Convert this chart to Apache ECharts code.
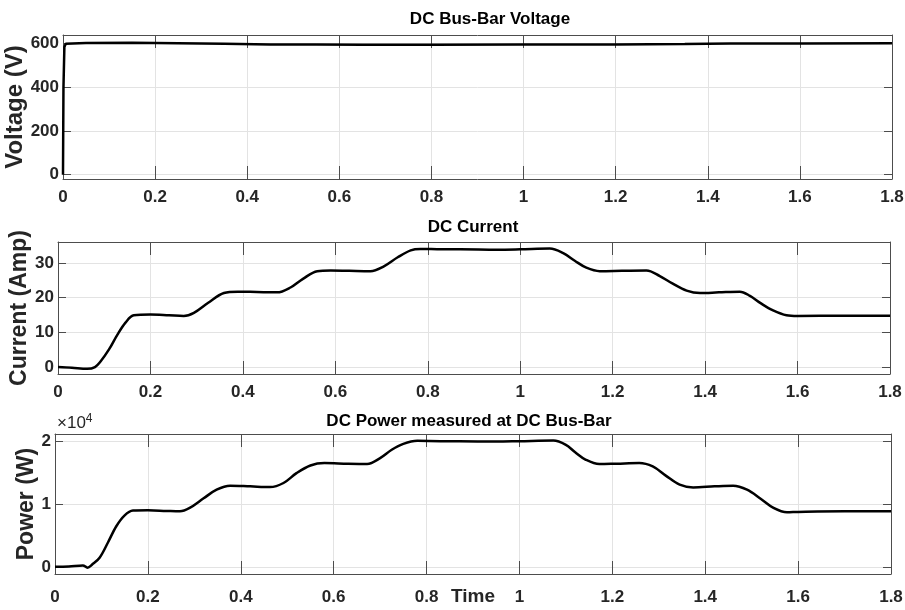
<!DOCTYPE html>
<html>
<head>
<meta charset="utf-8">
<script src="https://cdn.jsdelivr.net/npm/echarts@6/dist/echarts.min.js"></script>
<style>
  html, body { margin: 0; padding: 0; background: #fff; }
  #chart { width: 905px; height: 610px; }
</style>
</head>
<body>
<div id="chart"></div>
<script>
// time ticks (s)
const timeTicks = [0, 0.2, 0.4, 0.6, 0.8, 1, 1.2, 1.4, 1.6, 1.8];

// DC bus-bar voltage (V)
const voltT = [0, 0.001, 0.003, 0.006, 0.05, 0.15, 0.25, 0.35, 0.45, 0.55, 0.65, 0.8, 1.0, 1.2, 1.35, 1.45, 1.6, 1.8];
const voltV = [0, 400, 585, 600, 603, 604, 602, 600, 597, 596, 595, 595, 596, 597, 599, 601, 601, 602];
const voltTicks = [0, 200, 400, 600];

// DC current (A)
const curT = [0, 0.03, 0.063, 0.08, 0.092, 0.11, 0.128, 0.146, 0.164, 0.2, 0.24, 0.272, 0.294, 0.325, 0.359, 0.389, 0.43, 0.474, 0.503, 0.53, 0.561, 0.59, 0.63, 0.676, 0.705, 0.735, 0.763, 0.784, 0.83, 0.87, 0.95, 1.0, 1.064, 1.093, 1.118, 1.143, 1.172, 1.22, 1.273, 1.302, 1.33, 1.36, 1.389, 1.43, 1.475, 1.497, 1.52, 1.547, 1.576, 1.6, 1.7, 1.8];
const curV = [0, -0.2, -0.5, 0, 1.6, 5, 9.2, 12.8, 14.9, 15.1, 14.9, 14.7, 15.6, 18.5, 21.3, 21.7, 21.6, 21.5, 22.9, 25.4, 27.6, 27.8, 27.7, 27.6, 29, 31.6, 33.6, 34, 33.9, 33.9, 33.8, 33.9, 34.1, 32.8, 30.6, 28.6, 27.6, 27.7, 27.8, 26.2, 24, 22, 21.3, 21.5, 21.7, 20.5, 18.4, 16.3, 14.9, 14.7, 14.8, 14.8];
const curTicks = [0, 10, 20, 30];

// DC power (W)
const powT = [0, 0.03, 0.06, 0.07, 0.08, 0.096, 0.114, 0.132, 0.15, 0.168, 0.2, 0.24, 0.269, 0.29, 0.32, 0.348, 0.377, 0.42, 0.463, 0.492, 0.52, 0.55, 0.58, 0.63, 0.672, 0.70, 0.725, 0.75, 0.78, 0.83, 0.87, 0.95, 1.0, 1.073, 1.10, 1.12, 1.143, 1.172, 1.21, 1.258, 1.287, 1.315, 1.345, 1.374, 1.42, 1.46, 1.49, 1.52, 1.547, 1.576, 1.6, 1.7, 1.8];
const powV = [150, 200, 360, 0, 500, 1580, 4000, 6570, 8300, 9050, 9100, 9000, 8940, 9480, 11000, 12370, 13000, 12900, 12790, 13430, 15000, 16210, 16590, 16500, 16460, 17380, 18700, 19640, 20110, 20060, 20060, 20000, 20060, 20160, 19480, 18300, 17110, 16430, 16500, 16590, 16050, 14600, 13160, 12730, 12900, 13000, 12370, 10900, 9480, 8780, 8850, 8950, 8950];
const powTicks = [0, 10000, 20000];

const font = "'Liberation Sans', Arial, sans-serif";
const frameColor = '#4d4d4d';
const gridColor = '#e3e3e3';

const zip = (t, v) => t.map((x, i) => [x, v[i]]);

const grids = [
  { left: 63, right: 13, top: 35, height: 144, outerBoundsMode: 'none' },
  { left: 58, right: 15, top: 242, height: 132, outerBoundsMode: 'none' },
  { left: 55, right: 14, top: 434, height: 140, outerBoundsMode: 'none' }
];

let xAxis = [];
let yAxis = [];
const labelMargins = [10, 10, 15];

grids.forEach((g, i) => {
  // bottom x axis with labels
  xAxis.push({
    gridIndex: i,
    type: 'value',
    min: 0, max: 1.8, interval: 0.2,
    axisLine: { show: true, onZero: false, lineStyle: { color: frameColor, width: 1 } },
    axisTick: { show: true, inside: true, length: 13, lineStyle: { color: frameColor } },
    axisLabel: { show: true, margin: labelMargins[i], color: '#262626', fontFamily: font, fontWeight: 'bold', fontSize: 17 },
    splitLine: { show: true, lineStyle: { color: gridColor, width: 1 } },
    name: i === 2 ? 'Time' : '',
    nameLocation: 'middle',
    nameMoveOverlap: false,
    nameGap: 13,
    nameTextStyle: { color: '#262626', fontFamily: font, fontWeight: 'bold', fontSize: 19 }
  });
  // top x axis: frame + ticks only
  xAxis.push({
    gridIndex: i,
    type: 'value',
    position: 'top',
    min: 0, max: 1.8, interval: 0.2,
    axisLine: { show: true, onZero: false, lineStyle: { color: frameColor, width: 1 } },
    axisTick: { show: true, inside: true, length: 13, lineStyle: { color: frameColor } },
    axisLabel: { show: false },
    splitLine: { show: false }
  });
});

const yConf = [
  { min: -20, max: 640, ticks: voltTicks, name: 'Voltage (V)', nameSize: 24, nameGap: 36, fmt: v => String(v) },
  { min: -2, max: 36, ticks: curTicks, name: 'Current (Amp)', nameSize: 23, nameGap: 27, fmt: v => String(v) },
  { min: -1000, max: 21200, ticks: powTicks, name: 'Power (W)', nameSize: 23, nameGap: 17, fmt: v => String(v / 10000) }
];

yConf.forEach((c, i) => {
  yAxis.push({
    gridIndex: i,
    type: 'value',
    min: c.min, max: c.max,
    axisLine: { show: true, onZero: false, lineStyle: { color: frameColor, width: 1 } },
    axisTick: { show: true, inside: true, length: 8, customValues: c.ticks, lineStyle: { color: frameColor } },
    axisLabel: { show: true, margin: 4, customValues: c.ticks, formatter: c.fmt, color: '#262626', fontFamily: font, fontWeight: 'bold', fontSize: 17 },
    splitLine: { show: true, lineStyle: { color: gridColor, width: 1 } },
    name: c.name,
    nameLocation: 'middle',
    nameMoveOverlap: false,
    nameGap: c.nameGap,
    nameTextStyle: { color: '#262626', fontFamily: font, fontWeight: 'bold', fontSize: c.nameSize }
  });
  yAxis.push({
    gridIndex: i,
    type: 'value',
    position: 'right',
    min: c.min, max: c.max,
    axisLine: { show: true, onZero: false, lineStyle: { color: frameColor, width: 1 } },
    axisTick: { show: true, inside: true, length: 8, customValues: c.ticks, lineStyle: { color: frameColor } },
    axisLabel: { show: false },
    splitLine: { show: false }
  });
});

const lineSeries = (data, i, smooth) => ({
  type: 'line',
  xAxisIndex: i * 2,
  yAxisIndex: i * 2,
  data: data,
  showSymbol: false,
  smooth: smooth,
  lineStyle: { color: '#000', width: 2.5 },
  animation: false
});

const titleStyle = { color: '#000', fontFamily: font, fontWeight: 'bold', fontSize: 17 };

const option = {
  backgroundColor: '#fff',
  animation: false,
  title: [
    { text: 'DC Bus-Bar Voltage', left: 490, top: 11, textAlign: 'center', textStyle: titleStyle, padding: 0 },
    { text: 'DC Current', left: 473, top: 219, textAlign: 'center', textStyle: titleStyle, padding: 0 },
    { text: 'DC Power measured at DC Bus-Bar', left: 469, top: 413, textAlign: 'center', textStyle: titleStyle, padding: 0 }
  ],
  grid: grids,
  xAxis: xAxis,
  yAxis: yAxis,
  series: [
    lineSeries(zip(voltT, voltV), 0, false),
    lineSeries(zip(curT, curV), 1, 0.35),
    lineSeries(zip(powT, powV), 2, 0.35)
  ],
  graphic: [{
    type: 'text',
    left: 57,
    top: 413,
    style: {
      text: '×10{sup|4}',
      fill: '#262626',
      font: '17px ' + font,
      rich: { sup: { fontSize: 12, verticalAlign: 'top', fill: '#262626', fontFamily: font, padding: [0, 0, 8, 0] } }
    }
  }]
};

const chart = echarts.init(document.getElementById('chart'));
chart.setOption(option);
</script>
</body>
</html>
